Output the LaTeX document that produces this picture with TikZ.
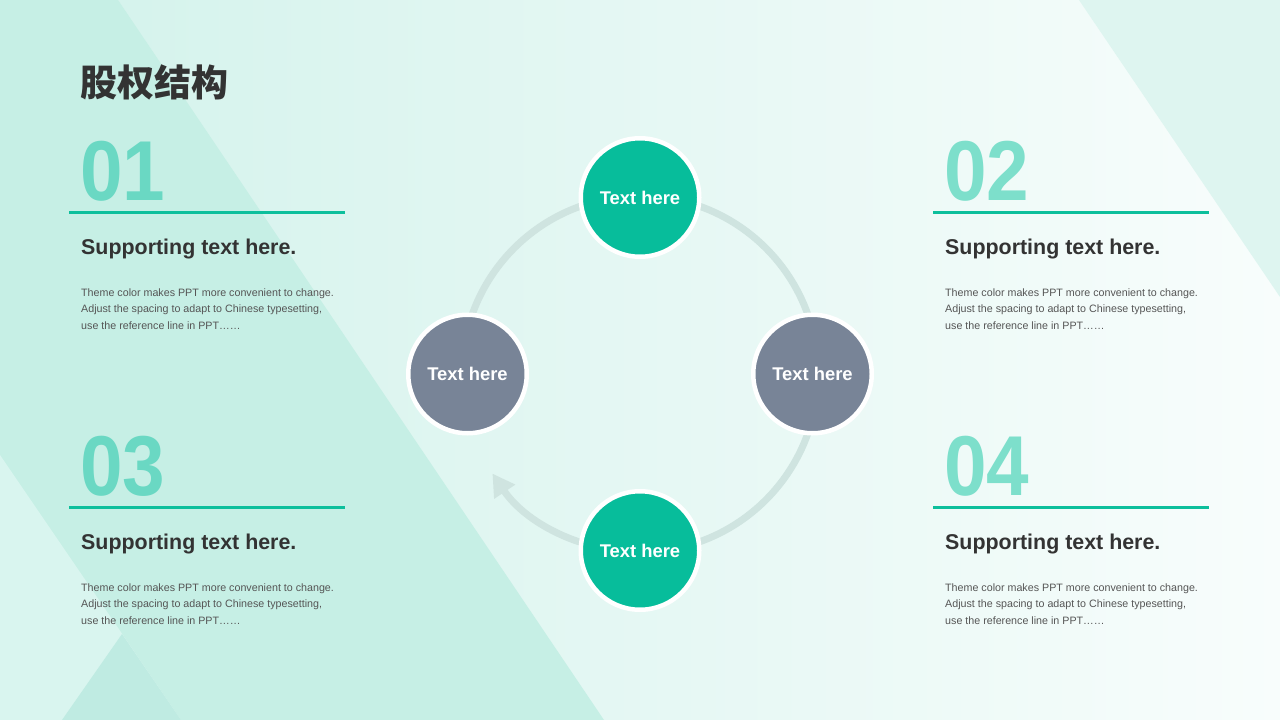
\documentclass[tikz,border=0pt]{standalone}
\usepackage{fontspec}
\setmainfont{Liberation Sans}
\newfontfamily\cjk{Noto Sans CJK SC}
\newfontfamily\numfont{Liberation Sans}[FakeStretch=0.9]
\usetikzlibrary{arrows.meta}
\definecolor{bgL}{HTML}{D2F2EB}
\definecolor{bgR}{HTML}{F8FDFC}
\definecolor{mintA}{HTML}{C6EFE5}
\definecolor{mintLight}{HTML}{D9F5EF}
\definecolor{mintTri}{HTML}{BFEBE2}
\definecolor{mintTR}{HTML}{DEF5F0}
\definecolor{tealc}{HTML}{07BD9B}
\definecolor{grayc}{HTML}{788497}
\definecolor{ringc}{HTML}{CFE4E0}
\definecolor{linec}{HTML}{0DBF9C}
\definecolor{numL}{HTML}{6AD8C3}
\definecolor{numR}{HTML}{7DDFCB}
\definecolor{darkc}{HTML}{333333}
\definecolor{bodyc}{HTML}{555555}
\begin{document}
\begin{tikzpicture}[x=1pt,y=-1pt,
  numstyle/.style={anchor=base west, inner sep=0pt, font=\numfont\bfseries\fontsize{85}{85}\selectfont},
  substyle/.style={anchor=base west, inner sep=0pt, text=darkc, font=\bfseries\fontsize{21.4}{24}\selectfont},
  bodystyle/.style={anchor=base west, inner sep=0pt, text=bodyc, font=\fontsize{10.7}{13}\selectfont},
  ruleline/.style={draw=linec, line width=3pt},
  bubble/.style={circle, draw=white, line width=4.5pt, minimum size=118.5pt, inner sep=0pt,
    text=white, font=\bfseries\fontsize{18.4}{20}\selectfont},
  ringline/.style={draw=ringc, line width=7pt}
]
\useasboundingbox (0,0) rectangle (1280,720);
% background
\shade[left color=bgL, right color=bgR] (0,0) rectangle (1280,720);
\fill[mintA] (0,0) -- (118,0) -- (604,720) -- (0,720) -- cycle;
\fill[mintLight] (0,455) -- (181,720) -- (0,720) -- cycle;
\fill[mintTri] (122,634) -- (181,720) -- (62,720) -- cycle;
\fill[mintTR] (1079,0) -- (1280,0) -- (1280,297) -- cycle;
% title
\node[anchor=west, inner sep=0pt, text=darkc, font=\cjk\bfseries\fontsize{37}{40}\selectfont] (title) at (80,82) {股权结构};
% blocks
\foreach \n/\bx/\dy/\nc in {01/81/0/numL, 02/945/0/numR, 03/81/295/numL, 04/945/295/numR}{
  \node[numstyle, text=\nc] (num\n) at (\bx-1, 200+\dy) {\n};
  \draw[ruleline] (\bx-12, 212+\dy) -- (\bx+264, 212+\dy);
  \node[substyle] (sub\n) at (\bx, 254+\dy) {Supporting text here.};
  \node[bodystyle] (bodya\n) at (\bx, 296+\dy) {Theme color makes PPT more convenient to change.};
  \node[bodystyle] (bodyb\n) at (\bx, 312.5+\dy) {Adjust the spacing to adapt to Chinese typesetting,};
  \node[bodystyle] (bodyc\n) at (\bx, 329+\dy) {use the reference line in PPT\dots\dots};
}
% ring
\coordinate (ringctr) at (640,374);
\draw[ringline] ([shift={(180:178)}]ringctr) arc (180:450:178);
\draw[ringline, -{Triangle[width=24pt,length=22pt]}] ([shift={(90:178)}]ringctr) arc (90:146:178);
% bubbles
\node[bubble, fill=tealc] (ctop) at (640,197.5) {Text here};
\node[bubble, fill=grayc] (cleft) at (467.5,374) {Text here};
\node[bubble, fill=grayc] (cright) at (812.5,374) {Text here};
\node[bubble, fill=tealc] (cbot) at (640,550.5) {Text here};
\end{tikzpicture}
\end{document}
